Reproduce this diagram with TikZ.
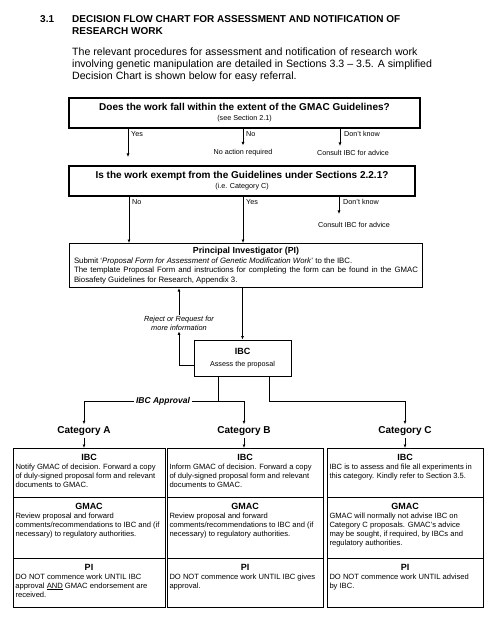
\documentclass[tikz,border=0pt]{standalone}
\usepackage{fontspec}
\setmainfont{Liberation Sans}
\usetikzlibrary{arrows.meta,positioning}

\newcommand{\headsize}{\fontsize{10}{12}\selectfont\bfseries}
\newcommand{\parasize}{\fontsize{10.6}{11.8}\selectfont}
\newcommand{\qsize}{\fontsize{10}{10}\selectfont\bfseries}
\newcommand{\lblsize}{\fontsize{7.2}{9}\selectfont}
\newcommand{\cellsize}{\fontsize{7.6}{9}\selectfont}
\newcommand{\cellhead}[1]{{\centering\fontsize{9}{10.5}\selectfont\bfseries #1\par}}

\begin{document}
\begin{tikzpicture}[x=1pt,y=-1pt,
  arr/.style={-{Latex[length=3.5pt,width=3pt]},line width=0.7pt},
  qbox/.style={draw,line width=1.1pt,align=center,inner sep=0pt,font=\qsize},
  lbl/.style={font=\lblsize,inner sep=1pt},
  cathead/.style={font=\fontsize{10}{10}\selectfont\bfseries,inner sep=2pt},
  cell/.style={draw,line width=0.8pt,anchor=north west,outer sep=0pt,inner xsep=2.5pt,inner ysep=6pt,font=\cellsize}]
\useasboundingbox (0,0) rectangle (495,620);

% heading and introduction
\node[anchor=north west,inner sep=0pt,font=\headsize] (secno) at (40,15) {3.1};
\node[anchor=north west,inner sep=0pt,font=\headsize,align=left] (sectitle) at (72,15)
  {DECISION FLOW CHART FOR ASSESSMENT AND NOTIFICATION OF\\RESEARCH WORK};
\node[anchor=north west,inner sep=0pt,font=\parasize,align=left] (intro) at (72,48)
  {The relevant procedures for assessment and notification of research work\\
   involving genetic manipulation are detailed in Sections 3.3 -- 3.5. A simplified\\
   Decision Chart is shown below for easy referral.};

% first question
\node[qbox,minimum width=351pt,minimum height=30pt] (q1) at (244.5,113)
  {Does the work fall within the extent of the GMAC Guidelines?\\{\normalfont\lblsize (see Section 2.1)}};
\coordinate (yes1end) at (128,157);
\draw[arr] (q1.south -| yes1end) -- (yes1end);
\node[lbl,anchor=west] (yes1) at (130,134) {Yes};
\node[lbl] (noact) at (243,153) {No action required};
\draw[arr,shorten >=3pt] (q1.south -| noact) -- (noact.north);
\node[lbl,anchor=west] (no1) at (245,134) {No};
\node[lbl] (consult1) at (353,153) {Consult IBC for advice};
\coordinate (dk1end) at (340,146);
\draw[arr] (q1.south -| dk1end) -- (dk1end);
\node[lbl,anchor=west] (dk1) at (343,134) {Don't know};

% second question
\node[qbox,minimum width=346pt,minimum height=30pt] (q2) at (242,181)
  {Is the work exempt from the Guidelines under Sections 2.2.1?\\{\normalfont\lblsize (i.e. Category C)}};

% principal investigator
\node[draw,line width=0.9pt,anchor=north,text width=344pt,inner xsep=4.5pt,inner ysep=4pt,
  font=\fontsize{7.8}{9.4}\selectfont,align=justify] (pi) at (246,243)
  {{\centering\fontsize{8.8}{10.5}\selectfont\bfseries Principal Investigator (PI)\par}
   Submit `\textit{Proposal Form for Assessment of Genetic Modification Work}' to the IBC.\par
   The template Proposal Form and instructions for completing the form can be found in the GMAC\linebreak
   Biosafety Guidelines for Research, Appendix 3.};
\coordinate (no2x) at (129,0);
\coordinate (yes2x) at (243,0);
\draw[arr] (q2.south -| no2x) -- (pi.north -| no2x);
\node[lbl,anchor=west] (no2) at (131,202) {No};
\draw[arr] (q2.south -| yes2x) -- (pi.north -| yes2x);
\node[lbl,anchor=west] (yes2) at (245,202) {Yes};
\coordinate (dk2end) at (339,214);
\draw[arr] (q2.south -| dk2end) -- (dk2end);
\node[lbl,anchor=west] (dk2) at (342,202) {Don't know};
\node[lbl] (consult2) at (354,225) {Consult IBC for advice};

% IBC assessment
\node[draw,line width=0.9pt,minimum width=97pt,minimum height=36pt,align=center,inner sep=1pt] (ibc) at (242.5,358)
  {{\fontsize{9}{10}\selectfont\bfseries IBC}\\{\fontsize{7.2}{8}\selectfont Assess the proposal}};
\draw[arr] (pi.south -| ibc.north) -- (ibc.north);
\node[lbl,font=\fontsize{7.4}{9}\selectfont\itshape,align=center] (reject) at (179,323)
  {Reject or Request for\\more information};
\draw[arr] ([yshift=-7pt]ibc.west) -| (reject.south);
\draw[arr] (reject.north) -- (reject.north |- pi.south);

% categories
\node[cathead] (cata) at (84,431) {Category A};
\node[cathead] (catb) at (244,431) {Category B};
\node[cathead] (catc) at (405,431) {Category C};
\coordinate (bus) at (0,401);
\draw[arr] ([xshift=-24.5pt]ibc.south) |- (bus -| cata) -- (cata);
\draw[arr] ([xshift=-24.5pt]ibc.south) |- (bus -| catb) -- (catb);
\draw[arr] ([xshift=26.5pt]ibc.south) |- (bus -| catc) -- (catc);
\node[fill=white,inner sep=2pt,font=\fontsize{8.5}{10}\selectfont\bfseries\itshape] (approval) at (163,401) {IBC Approval};

% Category A
\node[cell] (aibc) at (13,448) {\parbox[t][37pt][t]{147pt}{\raggedright\cellhead{IBC}%
  Notify GMAC of decision. Forward a copy\\of duly-signed proposal form and relevant\\documents to GMAC.}};
\node[cell] (agmac) at (aibc.south west) {\parbox[t][49pt][t]{147pt}{\raggedright\cellhead{GMAC}%
  Review proposal and forward\\comments/recommendations to IBC and (if\\necessary) to regulatory authorities.}};
\node[cell] (api) at (agmac.south west) {\parbox[t][37pt][t]{147pt}{\raggedright\cellhead{PI}%
  DO NOT commence work UNTIL IBC\\approval \underline{AND} GMAC endorsement are\\received.}};

% Category B
\node[cell] (bibc) at (167,448) {\parbox[t][37pt][t]{151pt}{\raggedright\cellhead{IBC}%
  Inform GMAC of decision. Forward a copy\\of duly-signed proposal form and relevant\\documents to GMAC.}};
\node[cell] (bgmac) at (bibc.south west) {\parbox[t][49pt][t]{151pt}{\raggedright\cellhead{GMAC}%
  Review proposal and forward\\comments/recommendations to IBC and (if\\necessary) to regulatory authorities.}};
\node[cell] (bpi) at (bgmac.south west) {\parbox[t][37pt][t]{151pt}{\raggedright\cellhead{PI}%
  DO NOT commence work UNTIL IBC gives\\approval.}};

% Category C
\node[cell] (cibc) at (327,448) {\parbox[t][37pt][t]{151pt}{\raggedright\cellhead{IBC}%
  IBC is to assess and file all experiments in\\this category. Kindly refer to Section 3.5.}};
\node[cell] (cgmac) at (cibc.south west) {\parbox[t][49pt][t]{151pt}{\raggedright\cellhead{GMAC}%
  GMAC will normally not advise IBC on\\Category C proposals. GMAC's advice\\may be sought, if required, by IBCs and\\regulatory authorities.}};
\node[cell] (cpi) at (cgmac.south west) {\parbox[t][37pt][t]{151pt}{\raggedright\cellhead{PI}%
  DO NOT commence work UNTIL advised\\by IBC.}};

\draw[arr] (cata) -- (cata |- aibc.north);
\draw[arr] (catb) -- (catb |- bibc.north);
\draw[arr] (catc) -- (catc |- cibc.north);
\end{tikzpicture}
\end{document}
